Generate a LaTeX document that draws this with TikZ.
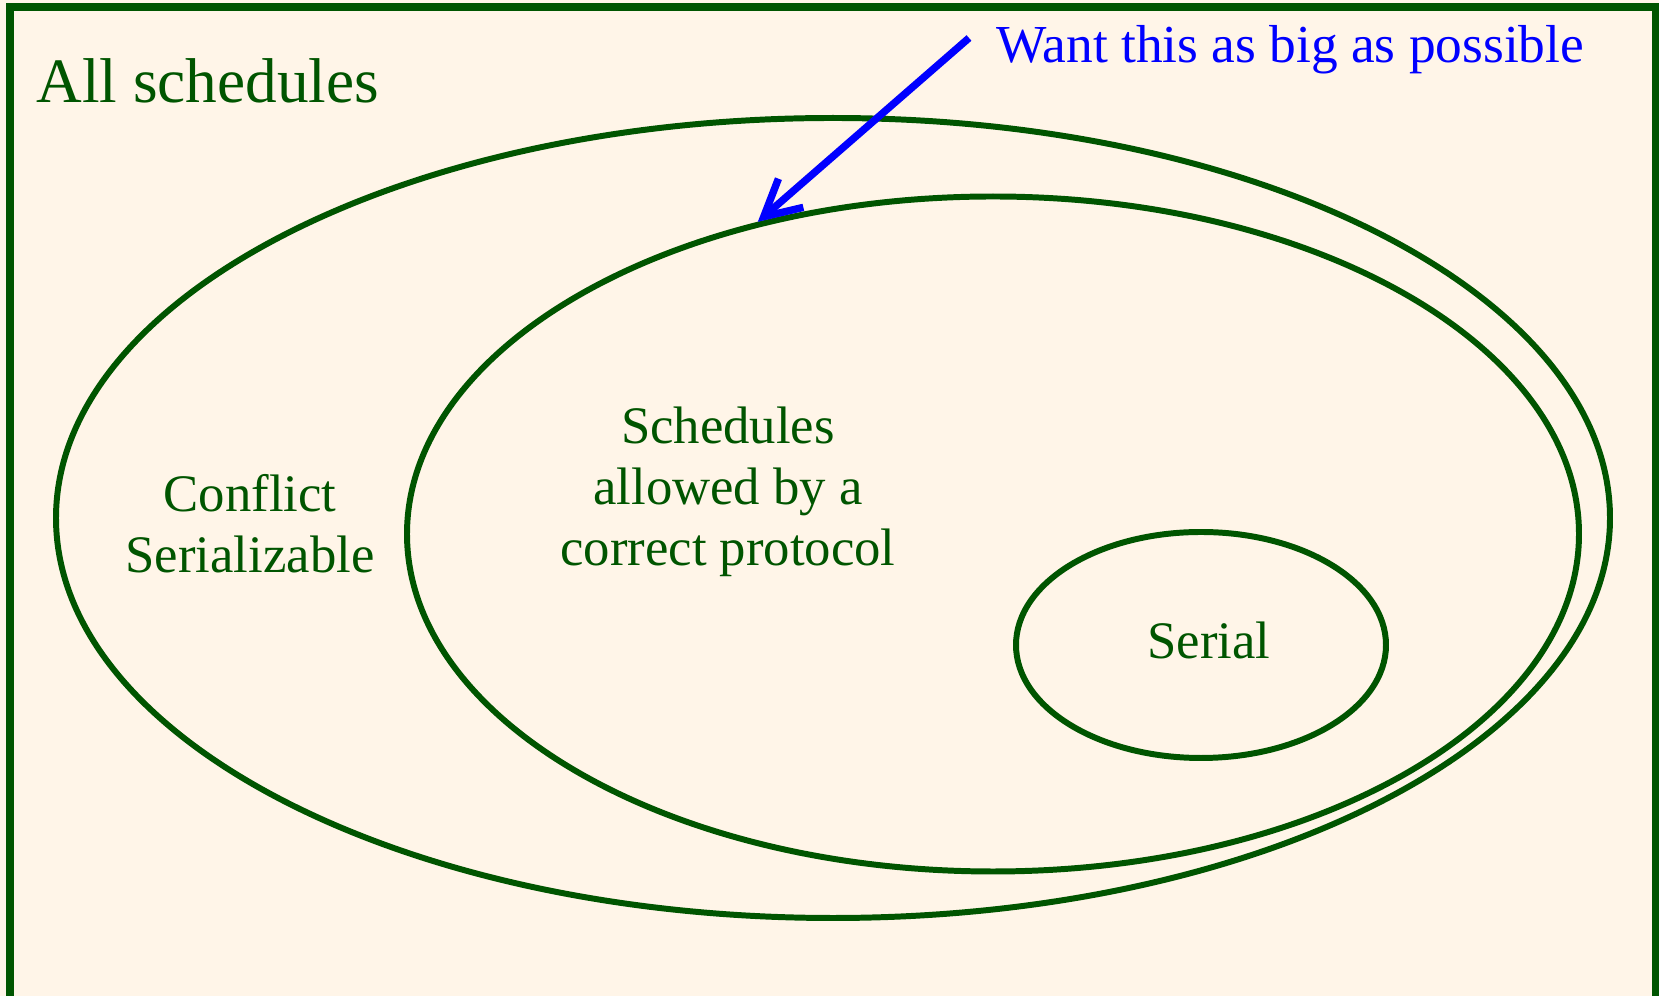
\documentclass[tikz,border=0pt]{standalone}
\usepackage{fontspec}
\setmainfont{Liberation Serif}
\usetikzlibrary{arrows.meta, positioning, shapes.geometric}
\definecolor{setgreen}{RGB}{0,85,0}
\definecolor{paper}{RGB}{255,245,232}

\begin{document}
\begin{tikzpicture}[
  every node/.style={align=center, text=setgreen},
  set/.style={draw=setgreen, ellipse, line width=1.7pt, inner sep=0pt},
  lbl/.style={font=\fontsize{15}{17.3}\selectfont},
  >={Straight Barb[length=3.6mm, width=3.8mm]}
]
\fill[paper] (0,0) rectangle (16.59,9.96);
\useasboundingbox (0,0) rectangle (16.59,9.96);
% Frame
\draw[setgreen, line width=2.4pt] (0.10,-0.3) -- (0.10,9.89) -- (16.56,9.89) -- (16.56,-0.3);
% Sets
\node[set, minimum width=15.54cm, minimum height=8cm] (conf) at (8.33,4.78) {};
\node[set, minimum width=11.72cm, minimum height=6.75cm] (prot) at (9.93,4.62) {};
\node[set, minimum width=3.7cm, minimum height=2.26cm] (serial) at (12.01,3.51) {};
% Labels
\node[anchor=base west, font=\fontsize{18}{21}\selectfont] (all) at (0.24,8.93) {All schedules};
\node[lbl] (conflbl) at (2.50,4.72) {Conflict\\Serializable};
\node[lbl] (protlbl) at (7.28,5.04) {Schedules\\allowed by a\\correct protocol};
\node[lbl] (seriallbl) at (12.09,3.56) {Serial};
\node[anchor=base west, text=blue, font=\fontsize{15.2}{18}\selectfont] (goal) at (9.84,9.33) {Want this as big as possible};
% Arrow
\coordinate (start) at (9.69,9.58);
\draw[->, blue, line width=2.1pt] (start) -- (prot.127);
\end{tikzpicture}
\end{document}
